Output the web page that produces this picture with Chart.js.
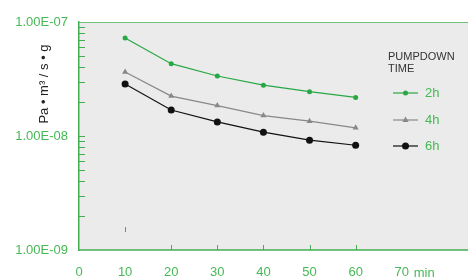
<!DOCTYPE html>
<html>
<head>
<meta charset="utf-8">
<script src="https://cdn.jsdelivr.net/npm/chart.js@4/dist/chart.umd.min.js"></script>
<style>
  html, body { margin: 0; padding: 0; background: #fff; }
  #wrap { width: 468px; height: 277px; }
</style>
</head>
<body>
<div id="wrap"><canvas id="chart" width="468" height="277"></canvas></div>
<script>
// pumpdown time (min) vs outgassing rate
const xValues = [10, 20, 30, 40, 50, 60];
const series2h = [7.24e-8, 4.31e-8, 3.36e-8, 2.79e-8, 2.45e-8, 2.18e-8];
const series4h = [3.64e-8, 2.24e-8, 1.85e-8, 1.51e-8, 1.35e-8, 1.18e-8];
const series6h = [2.86e-8, 1.69e-8, 1.33e-8, 1.08e-8, 9.2e-9, 8.3e-9];
const seriesLabels = ['2h', '4h', '6h'];

const xTickValues = [0, 10, 20, 30, 40, 50, 60, 70];
const xInnerTicks = [10, 20, 30, 40, 50, 60];
const yDecades = [1e-9, 1e-8, 1e-7];
const yTitle = 'Pa \u2022 m\u00B3 / s \u2022 g';
const xUnit = 'min';
const legendTitle = ['PUMPDOWN', 'TIME'];

const GREEN = '#27a844';
const GREEN_TEXT = '#45b955';
const AXIS_GREEN = '#43ad52';
const FONT = "'Liberation Sans', Arial, sans-serif";

function decadeLabel(v) {
    const e = Math.round(Math.log10(v));
    return '1.00E-' + String(-e).padStart(2, '0');
}

const decor = {
    id: 'decor',
    beforeDraw(chart) {
        const { ctx, chartArea: a } = chart;
        ctx.save();
        ctx.fillStyle = '#ebebeb';
        ctx.fillRect(a.left, a.top, chart.width - a.left, a.bottom - a.top);
        ctx.restore();
    },
    afterDraw(chart) {
        const { ctx, chartArea: a } = chart;
        const xs = chart.scales.x, ys = chart.scales.y;
        ctx.save();

        // top frame line
        ctx.strokeStyle = '#6cc27a';
        ctx.lineWidth = 1;
        ctx.beginPath();
        ctx.moveTo(a.left, a.top + 0.5);
        ctx.lineTo(chart.width, a.top + 0.5);
        ctx.stroke();

        // inward y ticks (log minors)
        ctx.strokeStyle = AXIS_GREEN;
        ctx.beginPath();
        yDecades.slice(0, -1).forEach(d => {
            for (let m = 1; m <= 9; m++) {
                if (d === yDecades[0] && m === 1) continue;
                const y = Math.round(ys.getPixelForValue(d * m)) + 0.5;
                ctx.moveTo(a.left, y);
                ctx.lineTo(a.left + 6, y);
            }
        });
        ctx.stroke();

        // inward x ticks (the one at 10 sits lifted off the axis in the original)
        ctx.beginPath();
        xInnerTicks.forEach(v => {
            const x = Math.round(xs.getPixelForValue(v)) + 0.5;
            const lift = v === 10 ? 18 : 0;
            ctx.moveTo(x, a.bottom - lift);
            ctx.lineTo(x, a.bottom - lift - 5);
        });
        ctx.stroke();

        // bottom axis line runs to the edge
        ctx.lineWidth = 1.5;
        ctx.beginPath();
        ctx.moveTo(a.left, a.bottom);
        ctx.lineTo(chart.width, a.bottom);
        ctx.stroke();

        // unit after last x label
        ctx.fillStyle = GREEN_TEXT;
        ctx.font = '13px ' + FONT;
        ctx.textBaseline = 'middle';
        ctx.textAlign = 'left';
        ctx.fillText(xUnit, xs.getPixelForValue(70) + 12, 273);

        // y axis title
        ctx.save();
        ctx.translate(44, 84);
        ctx.rotate(-Math.PI / 2);
        ctx.fillStyle = '#222';
        ctx.font = '13px ' + FONT;
        ctx.textAlign = 'center';
        ctx.textBaseline = 'middle';
        ctx.fillText(yTitle, 0, 0);
        ctx.restore();

        // legend
        ctx.fillStyle = '#333';
        ctx.font = '11px ' + FONT;
        ctx.textBaseline = 'top';
        ctx.fillText(legendTitle[0], 388, 51);
        ctx.fillText(legendTitle[1], 388, 63);

        const rowY = [93, 120, 146];
        chart.data.datasets.forEach((ds, i) => {
            const y = rowY[i];
            ctx.strokeStyle = ds.borderColor;
            ctx.lineWidth = 1.2;
            ctx.beginPath();
            ctx.moveTo(393, y);
            ctx.lineTo(418, y);
            ctx.stroke();
            ctx.fillStyle = ds.pointBackgroundColor;
            ctx.beginPath();
            if (ds.pointStyle === 'triangle') {
                const r = ds.pointRadius;
                ctx.moveTo(405.5, y - r);
                ctx.lineTo(405.5 + r * 0.9, y + r * 0.6);
                ctx.lineTo(405.5 - r * 0.9, y + r * 0.6);
                ctx.closePath();
            } else {
                ctx.arc(405.5, y, ds.pointRadius, 0, Math.PI * 2);
            }
            ctx.fill();
            ctx.fillStyle = GREEN_TEXT;
            ctx.font = '13px ' + FONT;
            ctx.textBaseline = 'middle';
            ctx.fillText(ds.label, 425, y);
        });
        ctx.restore();
    }
};

function makeSet(label, values, color, style, radius) {
    return {
        label: label,
        data: xValues.map((x, i) => ({ x: x, y: values[i] })),
        borderColor: color,
        backgroundColor: color,
        pointBackgroundColor: color,
        pointBorderColor: color,
        pointStyle: style,
        pointRadius: radius,
        pointBorderWidth: 0,
        borderWidth: 1.2,
        tension: 0,
        fill: false
    };
}

new Chart(document.getElementById('chart'), {
    type: 'line',
    data: {
        datasets: [
            makeSet(seriesLabels[0], series2h, GREEN, 'circle', 2.5),
            makeSet(seriesLabels[1], series4h, '#888888', 'triangle', 3.5),
            makeSet(seriesLabels[2], series6h, '#111111', 'circle', 3.5)
        ]
    },
    options: {
        responsive: false,
        animation: false,
        layout: { padding: { top: 22, left: 0, right: 0, bottom: 0 } },
        plugins: {
            legend: { display: false },
            tooltip: { enabled: false }
        },
        scales: {
            x: {
                type: 'linear',
                min: 0,
                max: 83.5,
                afterFit: s => { s.height = 27; },
                afterBuildTicks: s => { s.ticks = xTickValues.map(v => ({ value: v })); },
                grid: { display: false, drawTicks: false },
                border: { display: false },
                ticks: {
                    padding: 15,
                    color: GREEN_TEXT,
                    font: { family: FONT, size: 13 },
                    autoSkip: false,
                    maxRotation: 0,
                    callback: v => String(v)
                }
            },
            y: {
                type: 'logarithmic',
                min: 1e-9,
                max: 1e-7,
                afterFit: s => { s.width = 79; },
                afterBuildTicks: s => { s.ticks = yDecades.map(v => ({ value: v })); },
                grid: { display: false, drawTicks: false },
                border: { display: true, color: AXIS_GREEN, width: 1.5 },
                ticks: {
                    padding: 11,
                    color: GREEN_TEXT,
                    font: { family: FONT, size: 13 },
                    callback: v => decadeLabel(v)
                }
            }
        }
    },
    plugins: [decor]
});
</script>
</body>
</html>
